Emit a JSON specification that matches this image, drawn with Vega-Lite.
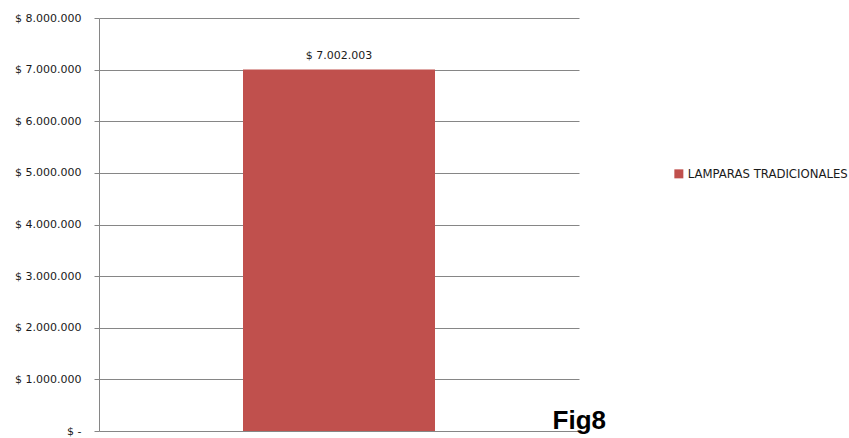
{
  "$schema": "https://vega.github.io/schema/vega-lite/v6.json",
  "width": 480,
  "height": 413,
  "autosize": {"type": "none"},
  "padding": {"left": 99, "top": 18, "right": 270, "bottom": 7},
  "background": "white",
  "config": {
    "view": {"stroke": null},
    "locale": {"number": {"decimal": ",", "thousands": ".", "grouping": [3], "currency": ["$ ", ""]}}
  },
  "title": {
    "text": "Fig8",
    "orient": "bottom",
    "anchor": "end",
    "frame": "group",
    "font": "Liberation Sans",
    "fontSize": 26,
    "fontWeight": "bold",
    "color": "#000000",
    "baseline": "alphabetic",
    "offset": -7,
    "dx": 27
  },
  "data": {"values": [{"serie": "LAMPARAS TRADICIONALES", "valor": 7002003}]},
  "encoding": {
    "x": {"field": "serie", "type": "nominal", "axis": null,
          "scale": {"paddingInner": 0.6, "paddingOuter": 0.3}},
    "y": {"field": "valor", "type": "quantitative",
          "scale": {"domain": [0, 8000000], "nice": false},
          "axis": {
            "title": null,
            "values": [0, 1000000, 2000000, 3000000, 4000000, 5000000, 6000000, 7000000, 8000000],
            "format": "$,d",
            "labelExpr": "datum.value == 0 ? '$ -' : datum.label",
            "labelFont": "DejaVu Sans",
            "labelFontSize": 11,
            "labelColor": "#1a1a1a",
            "labelPadding": 13,
            "tickSize": 5,
            "tickColor": "#868686",
            "domainColor": "#868686",
            "gridColor": "#868686",
            "grid": true,
            "gridWidth": 1,
            "domainWidth": 1
          }}
  },
  "layer": [
    {
      "mark": {"type": "bar", "color": "#C0504D"},
      "encoding": {
        "color": {"field": "serie", "type": "nominal",
                  "scale": {"range": ["#C0504D"]},
                  "legend": {
                    "title": null,
                    "orient": "none",
                    "legendX": 574,
                    "legendY": 150,
                    "padding": 0,
                    "symbolType": "square",
                    "symbolSize": 81,
                    "symbolStrokeWidth": 0,
                    "labelFont": "DejaVu Sans",
                    "labelFontSize": 11.7,
                    "labelColor": "#1a1a1a",
                    "labelOffset": 3,
                    "labelLimit": 300
                  }}
      }
    },
    {
      "mark": {"type": "text", "baseline": "alphabetic", "dy": -11, "font": "DejaVu Sans", "fontSize": 11, "color": "#1a1a1a"},
      "encoding": {
        "text": {"field": "valor", "type": "quantitative", "format": "$,d"}
      }
    }
  ]
}
